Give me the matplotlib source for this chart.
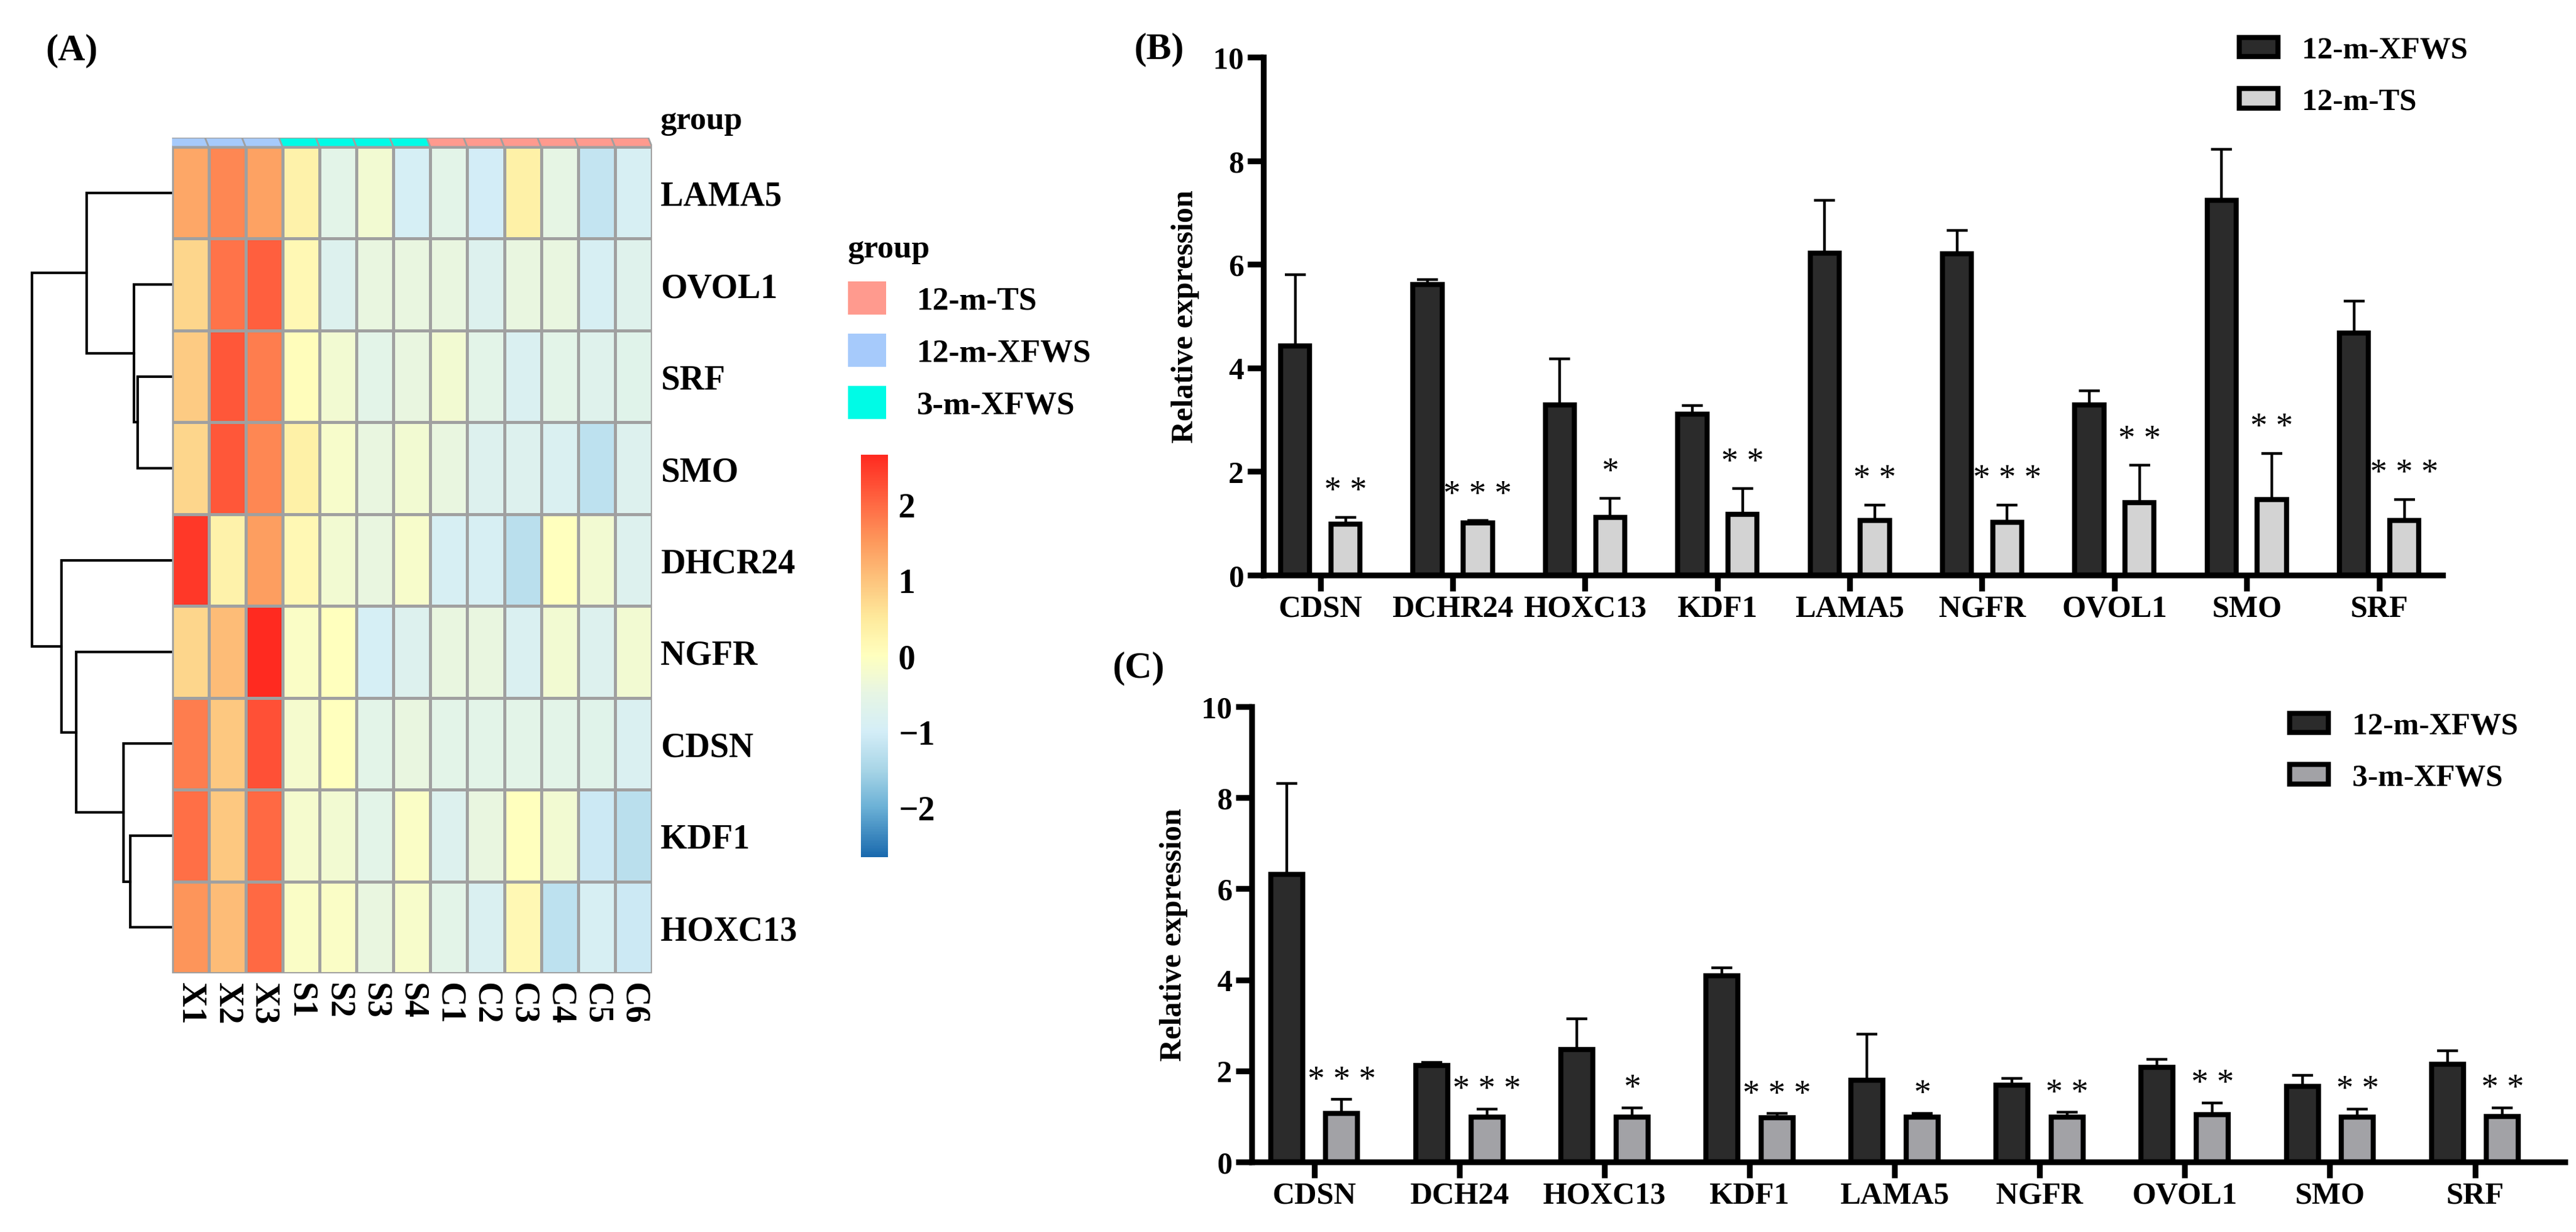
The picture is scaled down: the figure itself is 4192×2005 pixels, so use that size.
import numpy as np
import matplotlib
matplotlib.use("Agg")
import matplotlib.pyplot as plt
from matplotlib.colors import LinearSegmentedColormap, Normalize
from matplotlib.patches import Patch, Polygon
from matplotlib.cm import ScalarMappable

plt.rcParams["font.family"] = ["Liberation Serif", "DejaVu Serif"]
plt.rcParams["font.weight"] = "bold"

# -------------------------
# DATA: heatmap (A)
# -------------------------
hm_genes = ["LAMA5", "OVOL1", "SRF", "SMO", "DHCR24", "NGFR", "CDSN", "KDF1", "HOXC13"]
hm_samples = ["X1", "X2", "X3", "S1", "S2", "S3", "S4", "C1", "C2", "C3", "C4", "C5", "C6"]
hm_groups = ["12-m-XFWS"] * 3 + ["3-m-XFWS"] * 4 + ["12-m-TS"] * 6
hm_values = [
    [1.35, 1.70, 1.40, 0.30, -0.60, -0.25, -0.95, -0.60, -1.00, 0.35, -0.50, -1.20, -0.90],
    [0.75, 1.90, 2.10, 0.15, -0.75, -0.45, -0.45, -0.45, -0.75, -0.45, -0.45, -0.90, -0.70],
    [0.90, 2.20, 1.80, 0.05, -0.25, -0.60, -0.45, -0.25, -0.60, -0.85, -0.60, -0.70, -0.65],
    [0.75, 2.20, 1.70, 0.35, -0.15, -0.45, -0.25, -0.45, -0.75, -0.75, -0.85, -1.25, -0.75],
    [2.50, 0.30, 1.45, 0.15, -0.25, -0.45, -0.15, -0.90, -0.90, -1.30, 0.00, -0.25, -0.75],
    [0.75, 1.10, 2.66, -0.10, 0.00, -0.95, -0.75, -0.45, -0.45, -0.85, -0.25, -0.75, -0.25],
    [1.80, 0.95, 2.25, -0.20, 0.00, -0.60, -0.45, -0.60, -0.60, -0.60, -0.60, -0.65, -0.85],
    [1.95, 0.95, 2.00, -0.20, -0.25, -0.60, -0.10, -0.75, -0.45, 0.00, -0.25, -1.10, -1.30],
    [1.55, 1.10, 2.00, -0.10, -0.10, -0.45, -0.15, -0.60, -0.85, 0.15, -1.25, -0.90, -1.10],
]
# row dendrogram: (left, right, height) -> new node n1, n2, ...
dendro_merges = [
    ("SRF", "SMO", 0.56),
    ("OVOL1", "n1", 0.62),
    ("LAMA5", "n2", 1.39),
    ("KDF1", "HOXC13", 0.68),
    ("CDSN", "n4", 0.79),
    ("NGFR", "n5", 1.56),
    ("DHCR24", "n6", 1.80),
    ("n3", "n7", 2.28),
]
group_names = ["12-m-TS", "12-m-XFWS", "3-m-XFWS"]
group_colors = {"12-m-TS": "#FF9A8E", "12-m-XFWS": "#A6CAFB", "3-m-XFWS": "#00FBE6"}
cbar_ticks = [-2, -1, 0, 1, 2]

# -------------------------
# DATA: qPCR bars (B) and (C)
# -------------------------
genes_b = ["CDSN", "DCHR24", "HOXC13", "KDF1", "LAMA5", "NGFR", "OVOL1", "SMO", "SRF"]
xfws12_b = [4.42, 5.61, 3.28, 3.11, 6.21, 6.20, 3.28, 7.24, 4.67]
xfws12_b_sd = [1.38, 0.09, 0.90, 0.16, 1.03, 0.45, 0.28, 0.98, 0.62]
ts12_b = [0.98, 1.01, 1.11, 1.18, 1.05, 1.02, 1.40, 1.46, 1.06]
ts12_b_sd = [0.14, 0.04, 0.37, 0.49, 0.30, 0.33, 0.72, 0.89, 0.40]
stars_b = ["**", "***", "*", "**", "**", "***", "**", "**", "***"]

genes_c = ["CDSN", "DCH24", "HOXC13", "KDF1", "LAMA5", "NGFR", "OVOL1", "SMO", "SRF"]
xfws12_c = [6.32, 2.12, 2.47, 4.09, 1.79, 1.69, 2.08, 1.66, 2.15]
xfws12_c_sd = [1.99, 0.06, 0.67, 0.18, 1.02, 0.15, 0.17, 0.24, 0.29]
xfws3_c = [1.06, 0.99, 0.99, 0.97, 0.98, 0.98, 1.04, 0.99, 1.00]
xfws3_c_sd = [0.31, 0.17, 0.20, 0.09, 0.09, 0.11, 0.26, 0.17, 0.19]
stars_c = ["***", "***", "*", "***", "*", "**", "**", "**", "**"]

# -------------------------
# FIGURE
# -------------------------
W, H = 4192, 2006
DPI = 200
fig = plt.figure(figsize=(W / DPI, H / DPI), dpi=DPI)


def px_axes(x0, y0, x1, y1):
    """Axes from pixel box (top-left origin)."""
    return fig.add_axes([x0 / W, 1 - y1 / H, (x1 - x0) / W, (y1 - y0) / H])


# colour map similar to the heatmap legend
vlim = 2.66
stops = [(-2.66, "#1a6aae"), (-2.0, "#6cb1d6"), (-1.5, "#a9d6e7"), (-1.0, "#d4eef7"),
         (-0.5, "#e6f5e4"), (0.0, "#ffffbf"), (0.5, "#feea9c"), (1.0, "#fdc47d"),
         (1.5, "#fd9a5d"), (2.0, "#ff6a44"), (2.66, "#ff2a20")]
cmap = LinearSegmentedColormap.from_list(
    "hm", [((v + vlim) / (2 * vlim), c) for v, c in stops])
norm = Normalize(-vlim, vlim)

# heatmap body
ax_hm = px_axes(279.6, 240, 1061, 1585)
vals = np.array(hm_values)
ax_hm.pcolormesh(np.arange(len(hm_samples) + 1), np.arange(len(hm_genes) + 1), vals,
                 cmap=cmap, norm=norm, edgecolors="#A0A0A0", linewidth=1.1)
ax_hm.set_xlim(0, len(hm_samples))
ax_hm.set_ylim(len(hm_genes), 0)
for s in ax_hm.spines.values():
    s.set_visible(False)
ax_hm.yaxis.tick_right()
ax_hm.set_yticks(np.arange(len(hm_genes)) + 0.5)
ax_hm.set_yticklabels(hm_genes, fontsize=20, fontweight="bold")
ax_hm.set_xticks(np.arange(len(hm_samples)) + 0.5)
ax_hm.set_xticklabels(hm_samples, fontsize=20, fontweight="bold", rotation=270)
ax_hm.tick_params(length=0, pad=5)

# annotation bar (slanted cells like the original export)
ax_an = px_axes(279.6, 225, 1061, 240)
for i, g in enumerate(hm_groups):
    ax_an.add_patch(Polygon([(i - 0.1, 0), (i + 0.9, 0), (i + 1, 1), (i, 1)],
                            closed=True, facecolor=group_colors[g],
                            edgecolor="#A0A0A0", linewidth=1.0))
ax_an.set_xlim(0, len(hm_samples))
ax_an.set_ylim(1, 0)
ax_an.axis("off")
fig.text(1075 / W, 1 - 197 / H, "group", fontsize=19, fontweight="bold", va="center")

# row dendrogram
ax_dn = px_axes(0, 240, 279.6, 1585)
pos = {g: (0.0, i + 0.5) for i, g in enumerate(hm_genes)}
for k, (a, b, h) in enumerate(dendro_merges, start=1):
    ha, ya = pos[a]
    hb, yb = pos[b]
    ax_dn.plot([ha, h, h, hb], [ya, ya, yb, yb], color="black", linewidth=1.5,
               solid_joinstyle="miter")
    pos["n%d" % k] = (h, (ya + yb) / 2)
ax_dn.set_xlim(2.796, 0)
ax_dn.set_ylim(len(hm_genes), 0)
ax_dn.axis("off")

# group legend
handles = [Patch(facecolor=group_colors[g], edgecolor="none", label=g) for g in group_names]
leg = fig.legend(handles=handles, loc="upper left", bbox_to_anchor=(1380 / W, 1 - 382 / H),
                 frameon=False, title="group", alignment="left", fontsize=19,
                 title_fontproperties={"size": 19, "weight": "bold"},
                 handlelength=1.17, handleheight=1.2, handletextpad=0.95,
                 labelspacing=0.55, borderpad=0, borderaxespad=0)
for t in leg.get_texts():
    t.set_fontweight("bold")

# colour bar
cax = px_axes(1401, 741, 1445, 1396)
cb = fig.colorbar(ScalarMappable(norm=norm, cmap=cmap), cax=cax, ticks=cbar_ticks)
cb.outline.set_visible(False)
cax.tick_params(length=0, pad=6, labelsize=20)
for t in cax.get_yticklabels():
    t.set_fontweight("bold")


# -------------------------
# BAR PANELS
# -------------------------
def bar_panel(box, xlim, genes, m1, s1, m2, s2, c2, stars, labels, leg_anchor, star_pad):
    ax = px_axes(*box)
    x = np.arange(len(genes))
    off, w = 0.19, 0.22
    zeros = np.zeros(len(genes))
    ax.errorbar(x - off, m1, yerr=[zeros, s1], fmt="none", ecolor="black",
                elinewidth=1.6, capsize=6, capthick=1.6, zorder=1)
    ax.errorbar(x + off, m2, yerr=[zeros, s2], fmt="none", ecolor="black",
                elinewidth=1.6, capsize=6, capthick=1.6, zorder=1)
    ax.bar(x - off, m1, w, color="#2B2B2B", edgecolor="black", linewidth=3, label=labels[0], zorder=2)
    ax.bar(x + off, m2, w, color=c2, edgecolor="black", linewidth=3, label=labels[1], zorder=2)
    for xi, top, st in zip(x, np.add(m2, s2), stars):
        ax.annotate(" ".join(st), (xi + off, top), xytext=(0, star_pad), textcoords="offset points",
                    ha="center", va="baseline", fontsize=20, fontweight="normal")
    ax.set_xlim(*xlim)
    ax.set_ylim(0, 10)
    ax.set_yticks([0, 2, 4, 6, 8, 10])
    ax.set_xticks(x)
    ax.set_xticklabels(genes)
    ax.spines["top"].set_visible(False)
    ax.spines["right"].set_visible(False)
    for s in ("left", "bottom"):
        ax.spines[s].set_linewidth(3.4)
    ax.tick_params(width=3.4, length=9.5, labelsize=18, pad=2)
    for t in ax.get_xticklabels() + ax.get_yticklabels():
        t.set_fontweight("bold")
    ax.set_ylabel("Relative expression", fontsize=18, fontweight="bold", labelpad=8)
    lg = ax.legend(loc="upper left", bbox_to_anchor=leg_anchor, bbox_transform=fig.transFigure,
                   frameon=False, fontsize=18, handlelength=1.25, handleheight=0.6,
                   handletextpad=0.8, labelspacing=0.75, borderpad=0, borderaxespad=0)
    for t in lg.get_texts():
        t.set_fontweight("bold")
    return ax


bar_panel((2056, 94, 3975, 937), (-0.43, 8.48), genes_b, xfws12_b, xfws12_b_sd,
          ts12_b, ts12_b_sd, "#D3D3D3", stars_b, ["12-m-XFWS", "12-m-TS"],
          (3644 / W, 1 - 60 / H), 10)
bar_panel((2037, 1151, 4174, 1892), (-0.43, 8.62), genes_c, xfws12_c, xfws12_c_sd,
          xfws3_c, xfws3_c_sd, "#A2A2A6", stars_c, ["12-m-XFWS", "3-m-XFWS"],
          (3726 / W, 1 - 1160 / H), 6)

# panel letters
fig.text(74 / W, 1 - 83 / H, "(A)", fontsize=22, fontweight="bold", va="center")
fig.text(1845 / W, 1 - 81 / H, "(B)", fontsize=22, fontweight="bold", va="center")
fig.text(1810 / W, 1 - 1088 / H, "(C)", fontsize=22, fontweight="bold", va="center")

fig.savefig("out.png", dpi=DPI)
